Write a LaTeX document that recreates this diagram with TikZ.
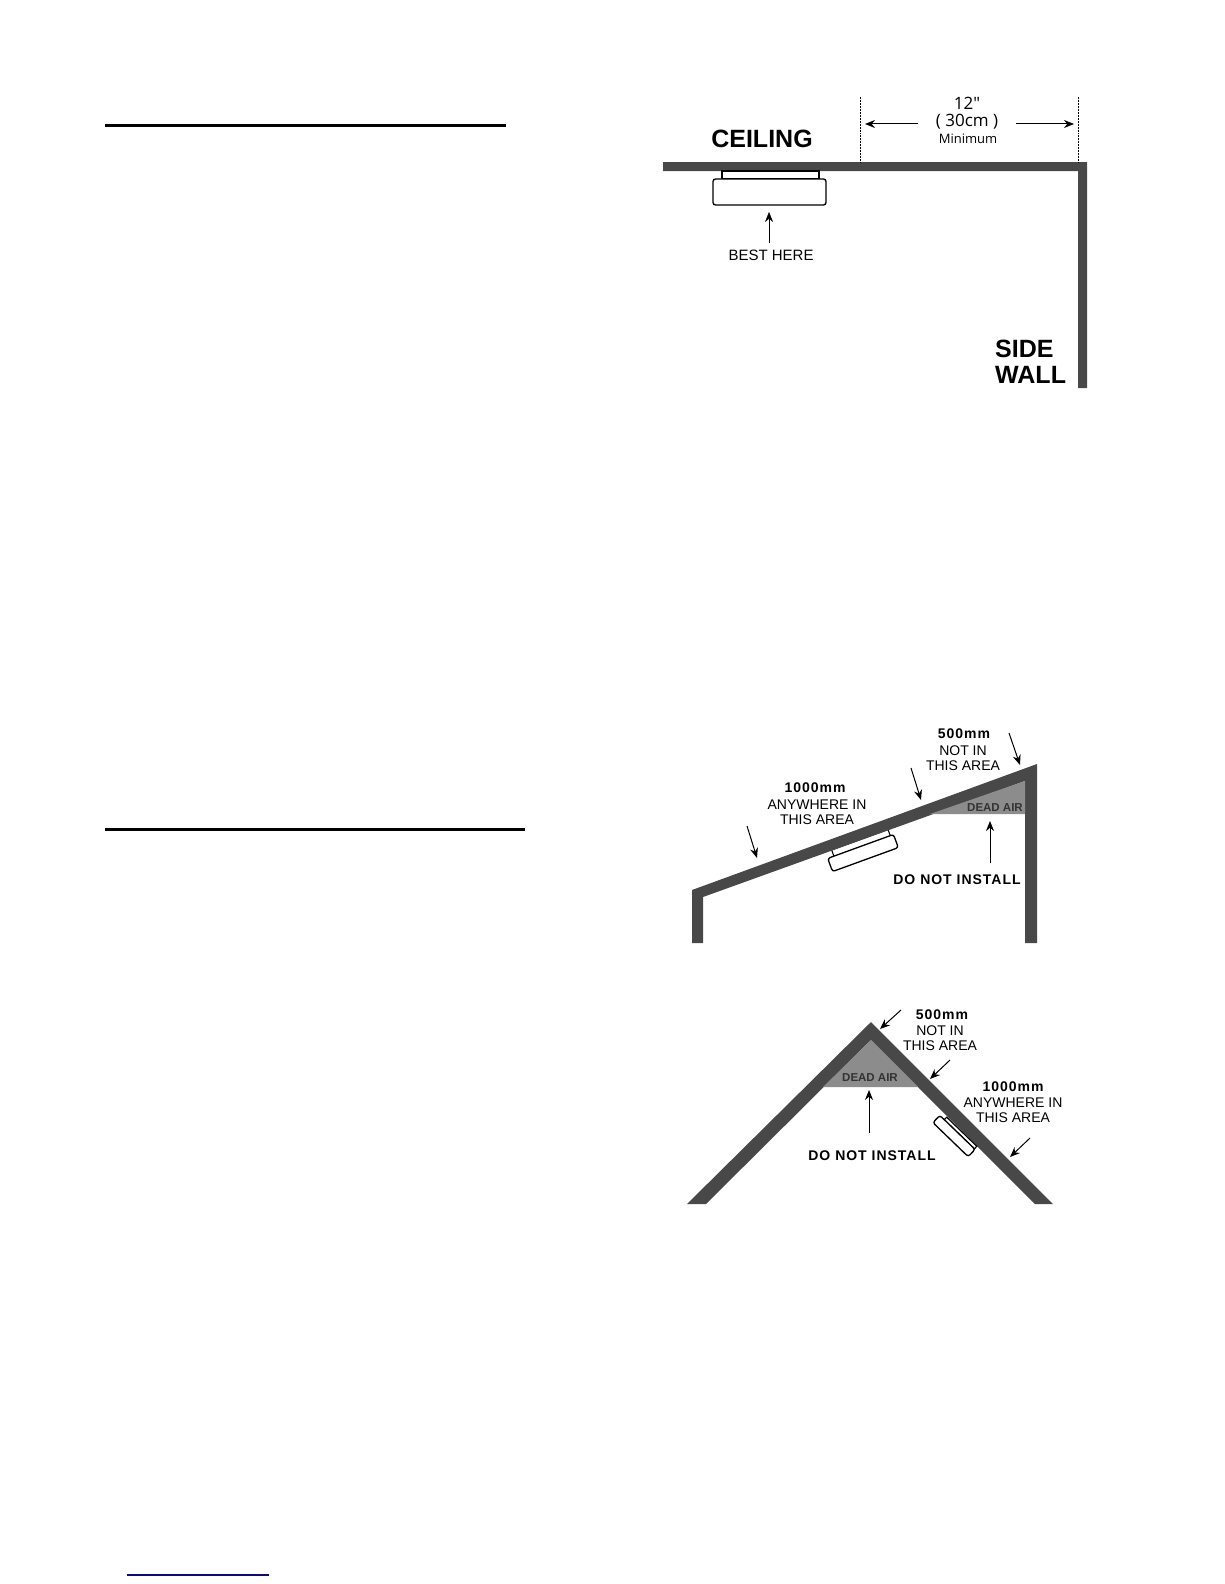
\documentclass[tikz,border=0pt]{standalone}
\usepackage{fontspec}
\setmainfont{Liberation Sans}
\newfontfamily\spacedfont[LetterSpace=7]{Liberation Sans}
\newfontfamily\roundfont{Open Sans}
\usepackage{xcolor}
\usepackage{tikz}
\usetikzlibrary{arrows.meta,positioning,calc}
\definecolor{wallgrey}{RGB}{72, 72, 72}
\definecolor{deadgrey}{RGB}{140, 140, 140}
\definecolor{rulenavy}{RGB}{10, 10, 130}
\tikzset{
    wall/.style={fill=wallgrey,draw=none},
    deadair/.style={fill=deadgrey,draw=none},
    sensor/.style={draw=black,fill=white,line width=1.3pt,rounded corners=2.5pt,inner sep=0pt,outer sep=0pt},
    mount/.style={draw=black,fill=white,line width=1.1pt,inner sep=0pt,outer sep=0pt},
    pointer/.style={-{Stealth[length=10pt,width=8pt]},line width=1pt},
    thinpointer/.style={-{Stealth[length=10pt,width=8pt]},line width=0.5pt},
    heading/.style={line width=3pt},
    txt/.style={inner sep=0pt,align=center},
    bigtxt/.style={txt,font=\fontsize{25}{26}\selectfont\bfseries},
    smalltxt/.style={txt,font=\fontsize{15}{15}\selectfont},
    areatxt/.style={txt,font=\fontsize{14}{15}\selectfont},
    sizetxt/.style={txt,font=\spacedfont\fontsize{14}{15}\selectfont\bfseries},
    installtxt/.style={txt,font=\spacedfont\fontsize{14}{15}\selectfont\bfseries},
    deadtxt/.style={txt,font=\fontsize{11.5}{12}\selectfont\bfseries,text=black!80},
}
\begin{document}
\begin{tikzpicture}[x=1pt,y=-1pt]
    \useasboundingbox (0,0) rectangle (1224,1584);
    \fill[white] (0,0) rectangle (1224,1584);

    % Rules of the page
    \coordinate (ruleA) at (105,125.5);
    \coordinate (ruleB) at (506,125.5);
    \coordinate (ruleC) at (105,829.5);
    \coordinate (ruleD) at (525,829.5);
    \coordinate (ruleE) at (127,1575);
    \coordinate (ruleF) at (269,1575);
    \draw[heading] (ruleA) -- (ruleB);
    \draw[heading] (ruleC) -- (ruleD);
    \draw[rulenavy,line width=1.2pt] (ruleE) -- (ruleF);

    % Ceiling and side wall
    \fill[wall] (663,162) -- (1087,162) -- (1087,388) -- (1078,388) -- (1078,171) -- (663,171) -- cycle;
    \node[mount,minimum width=97,minimum height=8] (flatmount) at (770.5,175) {};
    \node[sensor,minimum width=113,minimum height=26] (flatsensor) at (769.5,192) {};
    \node[bigtxt] (ceiling) at (762,139) {CEILING};
    \node[bigtxt,anchor=west,align=left] (sidewall) at (995,362) {SIDE\\[0pt]WALL};
    \node[smalltxt] (besthere) at (771,255) {BEST HERE};
    \coordinate (bestTail) at (769,243);
    \coordinate (bestTip) at (769,212);
    \draw[thinpointer] (bestTail) -- (bestTip);

    % 12 inch clearance
    \node[txt,font=\roundfont\fontsize{17}{17}\selectfont] (inches) at (967,103) {12"};
    \node[txt,font=\roundfont\fontsize{17}{17}\selectfont] (metric) at (967,122) {( 30cm )};
    \node[txt,font=\roundfont\fontsize{13}{13}\selectfont] (minimum) at (968,139) {Minimum};
    \coordinate (leftTop) at (860,97);
    \coordinate (leftFoot) at (860,162);
    \coordinate (rightTop) at (1078,97);
    \coordinate (rightFoot) at (1078,162);
    \draw[densely dotted,line width=0.5pt] (leftTop) -- (leftFoot);
    \draw[densely dotted,line width=0.5pt] (rightTop) -- (rightFoot);
    \coordinate (leftTail) at (918,124);
    \coordinate (leftTip) at (865,124);
    \coordinate (rightTail) at (1016,124);
    \coordinate (rightTip) at (1074,124);
    \draw[pointer] (leftTail) -- (leftTip);
    \draw[pointer] (rightTail) -- (rightTip);

    % Sloped roof
    \node[mount,rotate=20,minimum width=60,minimum height=7] (slopemount) at (861,843) {};
    \fill[wall] (692,943) -- (692,890) -- (1037,764) -- (1037,943) -- (1025,943) -- (1025,781) -- (703,897) -- (703,943) -- cycle;
    \fill[deadair] (1025,781) -- (1025,814) -- (930,814) -- cycle;
    \node[deadtxt] (slopedead) at (995,808) {DEAD AIR};
    \node[sensor,rotate=20,minimum width=70,minimum height=14] (slopesensor) at (863,853) {};
    \node[sizetxt] (slopefar) at (964,734) {500mm};
    \node[areatxt] (slopenot) at (963,758) {NOT IN\\THIS AREA};
    \node[sizetxt] (slopenear) at (815,788) {1000mm};
    \node[areatxt] (slopeany) at (817,812) {ANYWHERE IN\\THIS AREA};
    \node[installtxt] (slopeinstall) at (957,880) {DO NOT INSTALL};
    \coordinate (slopeA) at (747,826);
    \coordinate (slopeB) at (757,858);
    \coordinate (slopeC) at (911,768);
    \coordinate (slopeD) at (921,800);
    \coordinate (slopeE) at (1009,733);
    \coordinate (slopeF) at (1020,765);
    \coordinate (slopeG) at (990,863);
    \coordinate (slopeH) at (990,821);
    \draw[pointer] (slopeA) -- (slopeB);
    \draw[pointer] (slopeC) -- (slopeD);
    \draw[pointer] (slopeE) -- (slopeF);
    \draw[pointer] (slopeG) -- (slopeH);

    % Pitched roof
    \fill[wall] (687,1204) -- (871,1022) -- (1053,1204) -- (1035,1204) -- (871,1040) -- (706,1204) -- cycle;
    \fill[deadair] (871,1040) -- (918,1087) -- (823,1087) -- cycle;
    \node[deadtxt] (peakdead) at (870,1078) {DEAD AIR};
    \node[mount,rotate=-44,minimum width=42,minimum height=3.5] (peakmount) at (960.5,1133) {};
    \node[sensor,rotate=-44,minimum width=49,minimum height=10] (peaksensor) at (954,1136) {};
    \node[sizetxt] (peakfar) at (942,1015) {500mm};
    \node[areatxt] (peaknot) at (940,1038.5) {NOT IN\\THIS AREA};
    \node[sizetxt] (peaknear) at (1013,1087) {1000mm};
    \node[areatxt] (peakany) at (1013,1110.5) {ANYWHERE IN\\THIS AREA};
    \node[installtxt] (peakinstall) at (872,1156) {DO NOT INSTALL};
    \coordinate (peakA) at (901,1010);
    \coordinate (peakB) at (880,1029);
    \coordinate (peakC) at (950,1060);
    \coordinate (peakD) at (930,1079);
    \coordinate (peakE) at (1030,1138);
    \coordinate (peakF) at (1010,1157);
    \coordinate (peakG) at (869,1133);
    \coordinate (peakH) at (869,1090);
    \draw[pointer] (peakA) -- (peakB);
    \draw[pointer] (peakC) -- (peakD);
    \draw[pointer] (peakE) -- (peakF);
    \draw[pointer] (peakG) -- (peakH);
\end{tikzpicture}
\end{document}
